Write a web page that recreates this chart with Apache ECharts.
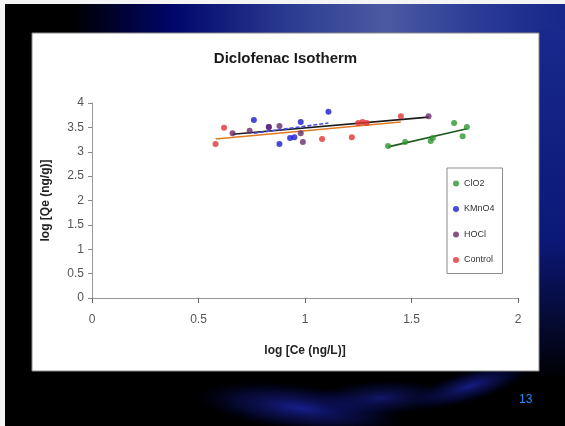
<!DOCTYPE html>
<html>
<head>
<meta charset="utf-8">
<script src="https://cdn.jsdelivr.net/npm/echarts@6/dist/echarts.min.js"></script>
<style>html,body{margin:0;padding:0;background:#000;}#c{width:565px;height:426px;}</style>
</head>
<body>
<div id="c"></div>
<script>
// ---- data ----
var xTicks = [0, 0.5, 1, 1.5, 2];
var yTicks = [0, 0.5, 1, 1.5, 2, 2.5, 3, 3.5, 4];

var clo2X = [1.39, 1.47, 1.59, 1.60, 1.70, 1.76, 1.74];
var clo2Y = [3.12, 3.20, 3.22, 3.28, 3.59, 3.51, 3.32];

var kmno4X = [0.76, 0.83, 0.88, 0.93, 0.95, 0.98, 1.11];
var kmno4Y = [3.65, 3.51, 3.16, 3.28, 3.30, 3.61, 3.82];

var hoclX = [0.66, 0.74, 0.83, 0.88, 0.98, 0.99, 1.58];
var hoclY = [3.38, 3.43, 3.51, 3.53, 3.38, 3.20, 3.73];

var controlX = [0.58, 0.62, 1.08, 1.22, 1.25, 1.27, 1.29, 1.45];
var controlY = [3.16, 3.49, 3.26, 3.30, 3.59, 3.61, 3.59, 3.73];

// trendline endpoints [x0, x1], [y0, y1]
var clo2TrendX = [1.39, 1.76],    clo2TrendY = [3.10, 3.47];
var kmno4TrendX = [0.76, 1.11],   kmno4TrendY = [3.38, 3.59];
var hoclTrendX = [0.66, 1.58],    hoclTrendY = [3.36, 3.71];
var controlTrendX = [0.58, 1.45], controlTrendY = [3.26, 3.61];

var seriesNames = ['ClO2', 'KMnO4', 'HOCl', 'Control'];
var titleText = 'Diclofenac Isotherm';
var xName = 'log [Ce (ng/L)]';
var yName = 'log [Qe (ng/g)]';
var pageNum = '13';

function pts(xs, ys) { return xs.map(function (x, i) { return [x, ys[i]]; }); }

var colors = { ClO2: '#2e962e', KMnO4: '#1c1cd0', HOCl: '#6a2a6a', Control: '#e03232' };
var font = '"Liberation Sans", Arial, sans-serif';

var chart = echarts.init(document.getElementById('c'), null, { renderer: 'canvas' });

function scatter(name, xs, ys) {
  return { name: name, type: 'scatter', data: pts(xs, ys), symbol: 'circle', symbolSize: 6,
    itemStyle: { color: colors[name] }, z: 5 };
}
function trend(xs, ys, color, type) {
  return { type: 'line', data: pts(xs, ys), symbol: 'none', silent: true, z: 4,
    lineStyle: { color: color, width: 1.6, type: type || 'solid' } };
}
function glow(cx, cy, r, sx, rot, a) {
  return { type: 'circle', z: -19, shape: { cx: 0, cy: 0, r: r }, x: cx, y: cy, scaleX: sx, rotation: rot,
    style: { fill: new echarts.graphic.RadialGradient(0.5, 0.5, 0.5, [
      { offset: 0, color: 'rgba(28,38,175,' + a + ')' }, { offset: 0.6, color: 'rgba(15,22,120,' + (a * 0.5) + ')' },
      { offset: 1, color: 'rgba(0,0,60,0)' }]) } };
}

chart.setOption({
  backgroundColor: '#000',
  animation: false,
  graphic: [
    { type: 'rect', z: -20, shape: { x: 0, y: 0, width: 565, height: 4 }, style: { fill: '#f4f4f4' } },
    { type: 'rect', z: -20, shape: { x: 0, y: 0, width: 5, height: 426 }, style: { fill: '#f4f4f4' } },
    { type: 'rect', z: -19, shape: { x: 5, y: 4, width: 560, height: 32 },
      style: { fill: new echarts.graphic.LinearGradient(0, 0, 1, 0, [
        { offset: 0, color: '#000000' }, { offset: 0.12, color: '#000000' },
        { offset: 0.3, color: '#00066a' }, { offset: 0.5, color: '#2a3a90' },
        { offset: 0.68, color: '#4a5aa2' }, { offset: 0.85, color: '#2a3a95' },
        { offset: 1, color: '#16268a' }]) } },
    { type: 'rect', z: -19, shape: { x: 539, y: 30, width: 26, height: 350 },
      style: { fill: new echarts.graphic.LinearGradient(0, 0, 0, 1, [
        { offset: 0, color: '#18288c' }, { offset: 0.6, color: '#0c1878' }, { offset: 1, color: '#000000' }]) } },
    glow(300, 408, 24, 4.5, -0.12, 0.8),
    glow(380, 398, 18, 4, 0.05, 0.6),
    glow(470, 386, 16, 4, 0.3, 0.75),
    { type: 'rect', z: -18, shape: { x: 32, y: 33, width: 507, height: 338 },
      style: { fill: '#ffffff', stroke: '#8a8a8a', lineWidth: 1 } },
    { type: 'text', z: 10, x: 285.5, y: 51,
      style: { text: titleText, font: 'bold 15px ' + font, fill: '#1a1a1a', textAlign: 'center' } },
    { type: 'text', z: 10, x: 519, y: 394,
      style: { text: pageNum, font: '12px ' + font, fill: '#1e8cff' } }
  ],
  legend: {
    data: seriesNames, orient: 'vertical', left: 447, top: 168,
    borderColor: '#8c8c8c', borderWidth: 1, padding: [10, 8, 8, 6],
    itemGap: 14.5, itemWidth: 6, itemHeight: 6, icon: 'circle',
    textStyle: { fontFamily: font, fontSize: 9, color: '#333', lineHeight: 11 }
  },
  grid: { left: 92, right: 47, top: 103, bottom: 128, containLabel: false },
  xAxis: [{
    type: 'value', min: xTicks[0], max: xTicks[xTicks.length - 1], interval: xTicks[1] - xTicks[0],
    name: xName, nameLocation: 'middle', nameGap: 47,
    nameTextStyle: { fontFamily: font, fontSize: 12, fontWeight: 'bold', color: '#222' },
    axisLine: { show: true, onZero: false, lineStyle: { color: '#444', width: 1.2 } },
    axisTick: { show: true, length: 5, lineStyle: { color: '#666' } },
    axisLabel: { fontFamily: font, fontSize: 12, color: '#555', margin: 16 },
    splitLine: { show: false }
  }, {
    type: 'value', position: 'top', min: xTicks[0], max: xTicks[xTicks.length - 1],
    axisLine: { show: true, lineStyle: { color: '#999' } }, axisTick: { show: false },
    axisLabel: { show: false }, splitLine: { show: false }
  }],
  yAxis: {
    type: 'value', min: yTicks[0], max: yTicks[yTicks.length - 1], interval: yTicks[1] - yTicks[0],
    name: yName, nameLocation: 'middle', nameGap: 40, nameRotate: 90,
    nameTextStyle: { fontFamily: font, fontSize: 12, fontWeight: 'bold', color: '#222' },
    axisLine: { show: true, lineStyle: { color: '#999' } },
    axisTick: { show: true, length: 4, lineStyle: { color: '#888' } },
    axisLabel: { fontFamily: font, fontSize: 12, color: '#555', margin: 8 },
    splitLine: { show: false }
  },
  series: [
    trend(controlTrendX, controlTrendY, '#e07a20'),
    trend(hoclTrendX, hoclTrendY, '#1a1a1a'),
    trend(kmno4TrendX, kmno4TrendY, '#4a4ae0', [4, 2]),
    trend(clo2TrendX, clo2TrendY, '#1d5a1d'),
    scatter('ClO2', clo2X, clo2Y),
    scatter('KMnO4', kmno4X, kmno4Y),
    scatter('HOCl', hoclX, hoclY),
    scatter('Control', controlX, controlY)
  ]
});
</script>
</body>
</html>
